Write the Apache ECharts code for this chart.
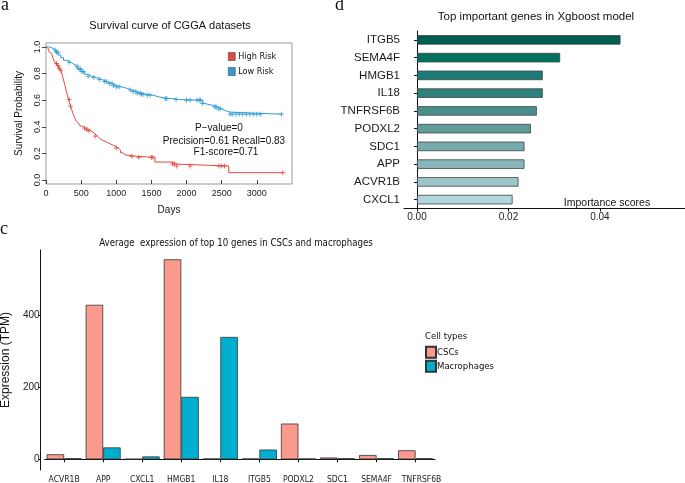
<!DOCTYPE html>
<html><head><meta charset="utf-8">
<script src="https://cdn.jsdelivr.net/npm/echarts@6/dist/echarts.min.js"></script>
<style>html,body{margin:0;padding:0;background:#fff}#c{width:685px;height:483px}</style>
</head><body><div id="c"></div><script>
// ---- Panel a: Kaplan-Meier survival (days, survival probability) ----
const highRiskCurve = [[0,1.0],[20,0.985],[40,0.965],[60,0.95],[80,0.935],[100,0.915],[120,0.89],[140,0.875],[160,0.86],[180,0.84],[200,0.825],[215,0.81],[230,0.79],[245,0.76],[260,0.73],[275,0.70],[290,0.665],[305,0.635],[320,0.605],[335,0.58],[350,0.555],[365,0.53],[380,0.505],[395,0.485],[410,0.465],[425,0.445],[440,0.43],[460,0.42],[480,0.41],[500,0.40],[530,0.39],[560,0.38],[600,0.37],[640,0.36],[670,0.345],[700,0.33],[730,0.315],[760,0.30],[800,0.29],[840,0.28],[880,0.27],[920,0.26],[960,0.25],[1000,0.24],[1030,0.225],[1060,0.205],[1090,0.19],[1120,0.178],[1300,0.17],[1550,0.135],[1800,0.12],[1850,0.105],[2600,0.055],[3370,0.055]];
const lowRiskCurve = [[0,1.0],[50,0.99],[100,0.977],[140,0.96],[175,0.94],[210,0.92],[250,0.90],[300,0.885],[350,0.87],[400,0.855],[450,0.835],[500,0.815],[550,0.795],[600,0.78],[650,0.77],[720,0.755],[800,0.74],[870,0.725],[950,0.71],[1000,0.70],[1080,0.69],[1150,0.677],[1220,0.665],[1290,0.652],[1360,0.645],[1430,0.638],[1520,0.626],[1600,0.615],[1700,0.612],[1800,0.605],[1900,0.60],[2200,0.60],[2230,0.575],[2260,0.56],[2380,0.55],[2450,0.535],[2500,0.52],[2560,0.51],[2620,0.495],[3350,0.495]];
const highRiskCensor = [150,170,190,210,330,350,550,580,610,700,1000,1220,1320,1500,1520,1800,1830,1860,2050,2460,2500,2540,3370];
const lowRiskCensor = [130,150,170,330,440,470,490,510,530,600,680,760,830,860,900,940,960,1000,1040,1200,1240,1280,1300,1340,1360,1380,1440,1480,1700,1720,1850,2000,2050,2150,2180,2200,2230,2400,2420,2450,2480,2620,2650,2700,2750,2800,2850,2900,2950,3000,3050,3350];
const survXTicks = [0,500,1000,1500,2000,2500,3000];
const survYTicks = [0,0.2,0.4,0.6,0.8,1.0];

// ---- Panel d: XGBoost importance ----
const xgbGenes = ['ITGB5','SEMA4F','HMGB1','IL18','TNFRSF6B','PODXL2','SDC1','APP','ACVR1B','CXCL1'];
const xgbImportance = [0.0445,0.0313,0.0275,0.0275,0.0262,0.0249,0.0235,0.0235,0.0222,0.0209];
const xgbTicks = [0,0.02,0.04];

// ---- Panel c: average expression ----
const exprGenes = ['ACVR1B','APP','CXCL1','HMGB1','IL18','ITGB5','PODXL2','SDC1','SEMA4F','TNFRSF6B'];
const exprCSCs = [14,428,1,554,2,2,99,5,12,25];
const exprMacrophages = [3,33,8,173,339,27,2,3,3,3];
const exprTicks = [0,200,400];

// styles
const xgbColors = ['#005d50','#00705f','#1b7a75','#2f817b','#4a8e8b','#5f9b99','#76aaab','#88b6bb','#9cc5ca','#afd7dc'];
const NARROW = "'DejaVu Sans Condensed','Liberation Sans',Arial,sans-serif";
const SANS = "'Liberation Sans',Arial,sans-serif";

function stepAt(curve, t){ let v = curve[0][1]; for (const p of curve){ if (p[0] <= t) v = p[1]; } return v; }
const plusPath = 'path://M5 0L5 10M0 5L10 5';

const chart = echarts.init(document.getElementById('c'), null, {renderer:'canvas'});
chart.setOption({
  animation:false,
  graphic:[
    {type:'text', style:{text:'a', x:1, y:14, font:"18px 'Liberation Serif',serif", fill:'#111', textVerticalAlign:'bottom'}},
    {type:'text', style:{text:'d', x:335, y:14, font:"18px 'Liberation Serif',serif", fill:'#111', textVerticalAlign:'bottom'}},
    {type:'text', style:{text:'c', x:0, y:238, font:"18px 'Liberation Serif',serif", fill:'#111', textVerticalAlign:'bottom'}},
    {type:'text', style:{text:'Survival curve of CGGA datasets', x:170, y:26, font:"11px "+SANS, fill:'#111', textAlign:'center', textVerticalAlign:'middle'}},
    {type:'text', style:{text:'P\u2212value=0', x:219, y:128, font:"10px "+SANS, fill:'#111', textAlign:'center', textVerticalAlign:'middle'}},
    {type:'text', style:{text:'Precision=0.61 Recall=0.83', x:224, y:141, font:"10px "+SANS, fill:'#111', textAlign:'center', textVerticalAlign:'middle'}},
    {type:'text', style:{text:'F1-score=0.71', x:226, y:152, font:"10px "+SANS, fill:'#111', textAlign:'center', textVerticalAlign:'middle'}},
    {type:'text', style:{text:'Top important genes in Xgboost model', x:536, y:17, font:"11.5px "+SANS, fill:'#111', textAlign:'center', textVerticalAlign:'middle'}},
    {type:'text', style:{text:'Importance scores', x:607, y:203, font:"10.5px "+SANS, fill:'#111', textAlign:'center', textVerticalAlign:'middle'}},
    {type:'text', style:{text:'Average  expression of top 10 genes in CSCs and macrophages', x:236, y:243, font:"9.6px "+NARROW, fill:'#111', textAlign:'center', textVerticalAlign:'middle'}},
    {type:'text', style:{text:'Cell types', x:425, y:337, font:"9.5px "+NARROW, fill:'#111', textVerticalAlign:'middle'}}
  ],
  legend:[
    {data:['High Risk','Low Risk'], left:223, top:47, orient:'vertical', itemWidth:7, itemHeight:8, itemGap:6, icon:'rect',
     textStyle:{fontSize:9, lineHeight:8, fontFamily:NARROW, color:'#111', padding:[0,0,0,-2]}, itemStyle:{borderColor:'#333', borderWidth:0.5}},
    {data:['CSCs','Macrophages'], left:420, top:340.7, orient:'vertical', itemWidth:10, itemHeight:11, itemGap:1, icon:'rect',
     textStyle:{fontSize:9.5, lineHeight:11, fontFamily:NARROW, color:'#111', padding:[0,0,0,-4]}}
  ],
  grid:[
    {left:46, top:43, width:246, height:141, show:true, borderColor:'#999', borderWidth:1, containLabel:false, outerBoundsMode:'none'},
    {left:404, top:31, width:281, height:177.5, containLabel:false, outerBoundsMode:'none'},
    {left:44.6, top:250, width:390.5, height:220, containLabel:false, outerBoundsMode:'none'}
  ],
  xAxis:[
    {gridIndex:0, type:'value', min:0, max:3500, splitLine:{show:false}, axisLine:{show:false},
     axisTick:{show:true, length:4, lineStyle:{color:'#444'}, customValues:survXTicks},
     axisLabel:{fontSize:9, fontFamily:SANS, color:'#222', margin:5, customValues:survXTicks, formatter:v=>String(v)},
     name:'Days', nameLocation:'middle', nameGap:21, nameTextStyle:{fontSize:10, fontFamily:SANS, color:'#111'}},
    {gridIndex:1, type:'value', min:-0.00284, max:0.0586, splitLine:{show:false},
     axisLine:{show:true, lineStyle:{color:'#111', width:1}},
     axisTick:{show:true, length:3, lineStyle:{color:'#111'}, customValues:xgbTicks},
     axisLabel:{fontSize:10, fontFamily:SANS, color:'#222', margin:4, customValues:xgbTicks, formatter:v=>v.toFixed(2)}},
    {gridIndex:2, type:'category', data:exprGenes, axisLine:{show:true, lineStyle:{color:'#111'}},
     axisTick:{show:true, alignWithLabel:true, length:3, lineStyle:{color:'#111'}},
     axisLabel:{fontSize:8.5, fontFamily:NARROW, color:'#222', margin:5, interval:0,
       formatter:(v,i)=> i === exprGenes.length-1 ? '{last|'+v+'}' : v,
       rich:{last:{fontSize:8.5, fontFamily:NARROW, color:'#222', padding:[0,0,0,12]}}}}
  ],
  yAxis:[
    {gridIndex:0, type:'value', min:-0.03, max:1.03, splitLine:{show:false}, axisLine:{show:false},
     axisTick:{show:true, length:4, lineStyle:{color:'#444'}, customValues:survYTicks},
     axisLabel:{fontSize:9, fontFamily:SANS, color:'#222', margin:4, rotate:90, customValues:survYTicks, formatter:v=>v.toFixed(1)},
     name:'Survival Probability', nameLocation:'middle', nameGap:22, nameRotate:90, nameTextStyle:{fontSize:10, fontFamily:SANS, color:'#111'}},
    {gridIndex:1, type:'category', data:xgbGenes, inverse:true, axisLine:{show:true, lineStyle:{color:'#111'}},
     axisTick:{show:true, alignWithLabel:true, length:3, lineStyle:{color:'#111'}},
     axisLabel:{fontSize:11.5, fontFamily:SANS, color:'#1a1a1a', margin:4, interval:0}},
    {gridIndex:2, type:'value', min:-29.6, max:579.8, offset:4, splitLine:{show:false},
     axisLine:{show:true, lineStyle:{color:'#111'}},
     axisTick:{show:true, length:2, lineStyle:{color:'#111'}, customValues:exprTicks},
     axisLabel:{fontSize:10, fontFamily:SANS, color:'#222', margin:1, customValues:exprTicks},
     name:'Expression (TPM)', nameLocation:'middle', nameGap:24, nameRotate:90, nameTextStyle:{fontSize:12, fontFamily:SANS, color:'#111'}}
  ],
  series:[
    {name:'High Risk', type:'line', xAxisIndex:0, yAxisIndex:0, step:'end', data:highRiskCurve, showSymbol:false, symbol:'none',
     color:'#e2483f', lineStyle:{color:'#e2483f', width:1}},
    {name:'Low Risk', type:'line', xAxisIndex:0, yAxisIndex:0, step:'end', data:lowRiskCurve, showSymbol:false, symbol:'none',
     color:'#2f9bd5', lineStyle:{color:'#2f9bd5', width:1}},
    {name:'High Risk censor', type:'scatter', xAxisIndex:0, yAxisIndex:0, symbol:plusPath, symbolSize:5,
     itemStyle:{color:'none', borderColor:'#e2483f', borderWidth:1}, data:highRiskCensor.map(t=>[t, stepAt(highRiskCurve,t)])},
    {name:'Low Risk censor', type:'scatter', xAxisIndex:0, yAxisIndex:0, symbol:plusPath, symbolSize:5,
     itemStyle:{color:'none', borderColor:'#2f9bd5', borderWidth:1}, data:lowRiskCensor.map(t=>[t, stepAt(lowRiskCurve,t)])},
    {name:'Importance', type:'bar', xAxisIndex:1, yAxisIndex:1, barWidth:9.5,
     data:xgbImportance.map((v,i)=>({value:v, itemStyle:{color:xgbColors[i], borderColor:'#444', borderWidth:0.8}}))},
    {name:'CSCs', type:'bar', xAxisIndex:2, yAxisIndex:2, barWidth:17.5, barGap:'0%', data:exprCSCs,
     color:'#f99a8c', itemStyle:{color:'#f99a8c', borderColor:'#333', borderWidth:0.8}},
    {name:'Macrophages', type:'bar', xAxisIndex:2, yAxisIndex:2, barWidth:17.5, barGap:'0%', data:exprMacrophages,
     color:'#00afcf', itemStyle:{color:'#00afcf', borderColor:'#333', borderWidth:0.8}}
  ]
});
</script></body></html>
